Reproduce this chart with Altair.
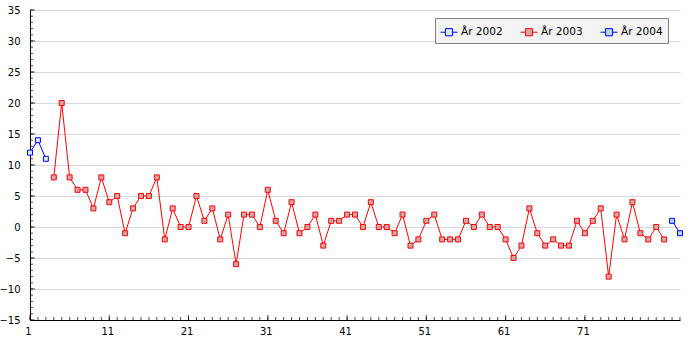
import altair as alt
import pandas as pd

# ---- data ----
x_2002 = [1, 2, 3]
v_2002 = [12, 14, 11]

x_2003 = list(range(4, 82))
v_2003 = [8, 20, 8, 6, 6, 3, 8, 4, 5, -1,
          3, 5, 5, 8, -2, 3, 0, 0, 5, 1,
          3, -2, 2, -6, 2, 2, 0, 6, 1, -1,
          4, -1, 0, 2, -3, 1, 1, 2, 2, 0,
          4, 0, 0, -1, 2, -3, -2, 1, 2, -2,
          -2, -2, 1, 0, 2, 0, 0, -2, -5, -3,
          3, -1, -3, -2, -3, -3, 1, -1, 1, 3,
          -8, 2, -2, 4, -1, -2, 0, -2]

x_2004 = [82, 83]
v_2004 = [1, -1]

series_names = ["År 2002", "År 2003", "År 2004"]
stroke_colors = ["#0000ff", "#ff0000", "#0000ff"]
fill_colors = ["#d4ebf3", "#d0a8a8", "#add8e6"]

x_labels = [1, 11, 21, 31, 41, 51, 61, 71]
y_labels = [-15, -10, -5, 0, 5, 10, 15, 20, 25, 30, 35]
x_minor = list(range(1, 84))
y_minor = list(range(-15, 36))

rows = []
for name, xs_, vs_ in [("År 2002", x_2002, v_2002),
                       ("År 2003", x_2003, v_2003),
                       ("År 2004", x_2004, v_2004)]:
    for xv, vv in zip(xs_, vs_):
        rows.append({"x": xv, "v": vv, "serie": name})
df = pd.DataFrame(rows)

FONT = "DejaVu Sans"
xs = alt.Scale(domain=[1, 83], nice=False, zero=False)
ys = alt.Scale(domain=[-15, 35], nice=False, zero=False)
stroke_scale = alt.Scale(domain=series_names, range=stroke_colors)
fill_scale = alt.Scale(domain=series_names, range=fill_colors)

x_axis = alt.Axis(values=x_labels, title=None, grid=False, ticks=False,
                  labelFont=FONT, labelFontSize=10, labelColor="black",
                  labelFlush=False, labelOverlap=False, labelPadding=6,
                  labelOffset=-2, domainColor="black", domainWidth=1)
y_axis = alt.Axis(values=y_labels, title=None, grid=True, gridColor="#d9d9d9",
                  gridWidth=1, ticks=False, labelFont=FONT, labelFontSize=10,
                  labelColor="black", labelPadding=10, labelOverlap=False,
                  labelFlush=False, domainColor="black", domainWidth=1)

legend_symbol = "M-1,0H-0.42M0.42,0H1M-0.42,-0.42H0.42V0.42H-0.42Z"
leg = alt.Legend(
    title=None, orient="none", legendX=405, legendY=8,
    direction="horizontal", fillColor="#f4f4f4",
    strokeColor="#808080", padding=5, cornerRadius=0,
    labelFont=FONT, labelFontSize=10.5, labelColor="black",
    symbolType=legend_symbol, symbolSize=289,
    symbolStrokeWidth=1, columnPadding=15, labelOffset=3)

lines = alt.Chart(df).mark_line(strokeWidth=1).encode(
    x=alt.X("x:Q", scale=xs, axis=x_axis),
    y=alt.Y("v:Q", scale=ys, axis=y_axis),
    stroke=alt.Stroke("serie:N", scale=stroke_scale, legend=leg),
    detail="serie:N",
)

points = alt.Chart(df).mark_point(shape="square", filled=True, size=25,
                                  strokeWidth=1, opacity=1).encode(
    x=alt.X("x:Q", scale=xs, axis=x_axis),
    y=alt.Y("v:Q", scale=ys, axis=y_axis),
    stroke=alt.Stroke("serie:N", scale=stroke_scale, legend=leg),
    fill=alt.Fill("serie:N", scale=fill_scale, legend=leg),
)

xt_minor = alt.Chart(pd.DataFrame({"t": x_minor})).mark_tick(
    orient="vertical", size=3, thickness=1, yOffset=-1.5, color="black").encode(
    x=alt.X("t:Q", scale=xs, axis=x_axis), y=alt.datum(-15, axis=y_axis))
xt_major = alt.Chart(pd.DataFrame({"t": x_labels})).mark_tick(
    orient="vertical", size=5, thickness=1, yOffset=-2.5, color="black").encode(
    x=alt.X("t:Q", scale=xs, axis=x_axis), y=alt.datum(-15, axis=y_axis))
yt_minor = alt.Chart(pd.DataFrame({"t": y_minor})).mark_tick(
    orient="horizontal", size=3, thickness=1, xOffset=1.5, color="black").encode(
    y=alt.Y("t:Q", scale=ys, axis=y_axis), x=alt.datum(1, axis=x_axis))
yt_major = alt.Chart(pd.DataFrame({"t": y_labels})).mark_tick(
    orient="horizontal", size=5, thickness=1, xOffset=2.5, color="black").encode(
    y=alt.Y("t:Q", scale=ys, axis=y_axis), x=alt.datum(1, axis=x_axis))

chart = alt.layer(lines, xt_minor, xt_major, yt_minor, yt_major, points).properties(
    width=650, height=310,
    autosize=alt.AutoSizeParams(type="none"),
    padding={"left": 30, "top": 10, "right": 20, "bottom": 30},
    background="white",
).configure_view(stroke=None)

chart.save("out.html", embed_options={"renderer": "svg", "actions": False})
